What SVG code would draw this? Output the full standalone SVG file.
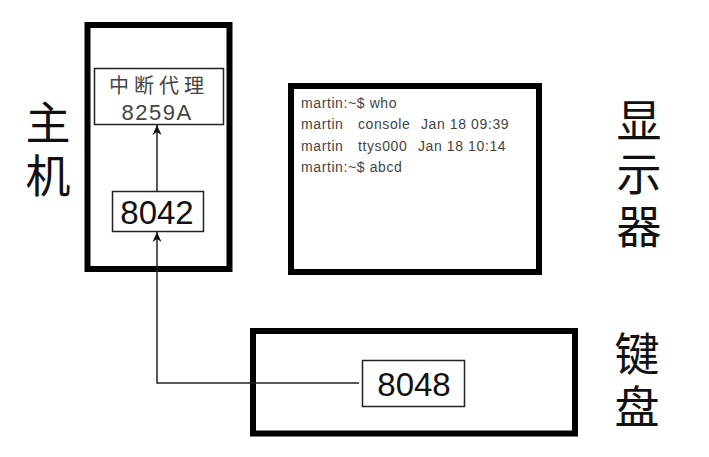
<svg xmlns="http://www.w3.org/2000/svg" width="709" height="457" viewBox="0 0 709 457">
<defs>
<style>
.big{fill:none;stroke:#000;stroke-width:6}
.small{fill:#fff;stroke:#222;stroke-width:1.5}
.cjk{font-family:"Noto Sans CJK SC","Noto Sans",sans-serif;fill:#111;font-size:45px;writing-mode:vertical-rl;letter-spacing:8px}
.num{font-family:"Liberation Sans",Arial,sans-serif;fill:#111;font-size:33px;text-anchor:middle}
.term{font-family:"Liberation Sans",Arial,sans-serif;fill:#444;font-size:14px;letter-spacing:0.6px}
.conn{fill:none;stroke:#222;stroke-width:1.5}
</style>
<marker id="arr" markerWidth="11" markerHeight="11" refX="10" refY="5" orient="auto" markerUnits="userSpaceOnUse">
<path d="M0,0.5 L10,5 L0,9.5 L3,5 z" fill="#111"/>
</marker>
</defs>
<rect width="709" height="457" fill="#fff"/>
<g id="host">
<rect class="big" x="87.5" y="25" width="142" height="244"/>
<text class="cjk" x="48" y="100">主机</text>
</g>
<g id="pic">
<rect class="small" x="94.5" y="68.5" width="129" height="56"/>
<text x="159" y="93" style="font-family:'Noto Sans CJK SC',sans-serif;font-size:20px;fill:#444;text-anchor:middle;letter-spacing:5px">中断代理</text>
<text x="157" y="120" style="font-family:'Liberation Sans',Arial,sans-serif;font-size:22px;fill:#444;text-anchor:middle;letter-spacing:1.5px">8259A</text>
</g>
<g id="kbc">
<rect class="small" x="112.5" y="191.5" width="91" height="40"/>
<text class="num" x="157" y="224">8042</text>
</g>
<g id="display">
<rect class="big" x="291" y="86" width="248" height="186"/>
<text class="cjk" x="639" y="98">显示器</text>
<text class="term" x="301" y="108">martin:~$ who</text>
<text class="term" y="129"><tspan x="301">martin</tspan><tspan x="358">console</tspan><tspan x="421">Jan 18 09:39</tspan></text>
<text class="term" y="151"><tspan x="301">martin</tspan><tspan x="358">ttys000</tspan><tspan x="418">Jan 18 10:14</tspan></text>
<text class="term" x="301" y="172">martin:~$ abcd</text>
</g>
<g id="keyboard">
<rect class="big" x="253" y="331" width="322" height="102.5"/>
<text class="cjk" x="637" y="331">键盘</text>
</g>
<g id="kbd8048">
<rect class="small" x="362.5" y="360.5" width="102" height="46"/>
<text class="num" x="414" y="396">8048</text>
</g>
<g id="connectors">
<path class="conn" d="M157,191 L157,125" marker-end="url(#arr)"/>
<path class="conn" d="M359,383 L157,383 L157,232" marker-end="url(#arr)"/>
</g>
</svg>
